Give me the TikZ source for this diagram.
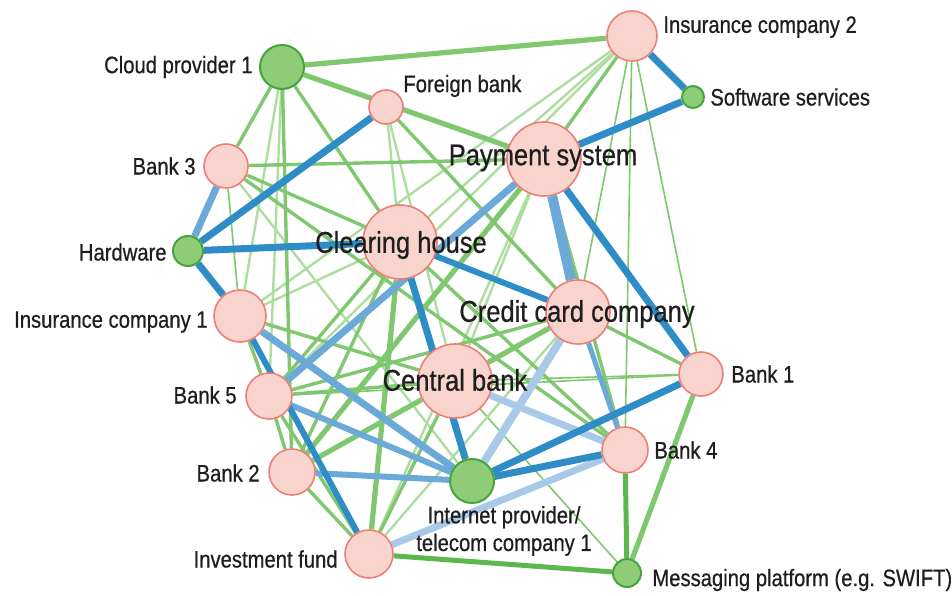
\documentclass[tikz,border=0pt]{standalone}
\usepackage{fontspec}
\setmainfont{Liberation Sans}[FakeStretch=0.85,FakeBold=0.6]
\definecolor{pinkfill}{HTML}{F9D4CD}
\definecolor{pinkline}{HTML}{EE7D78}
\definecolor{gfill}{HTML}{8ECC78}
\definecolor{gline}{HTML}{45A53C}
\definecolor{txt}{HTML}{1E1E1E}
\definecolor{dblue}{HTML}{2E8CC6}
\definecolor{mblue}{HTML}{6BA9D8}
\definecolor{lblue}{HTML}{A8CAE8}
\definecolor{egreen}{HTML}{7FC86F}
\definecolor{lgreen}{HTML}{AEDDA0}
\definecolor{dgreen}{HTML}{5AB84D}
\pgfdeclarelayer{bg}
\pgfsetlayers{bg,main}
\tikzset{
  pk/.style={circle, fill=pinkfill, draw=pinkline, line width=0.8pt, inner sep=0pt},
  gn/.style={circle, fill=gfill, draw=gline, line width=1pt, inner sep=0pt},
  lab/.style={font=\fontsize{11.9}{13.8}\selectfont, text=txt, inner sep=0pt},
  big/.style={font=\fontsize{15}{17}\selectfont, text=txt, inner sep=0pt},
  db/.style={draw=dblue, line width=#1}, db/.default=3.5pt,
  mb/.style={draw=mblue, line width=#1}, mb/.default=3.5pt,
  lb/.style={draw=lblue, line width=#1}, lb/.default=3.5pt,
  gk/.style={draw=egreen, line width=#1}, gk/.default=2.6pt,
  gm/.style={draw=egreen, line width=#1}, gm/.default=1.7pt,
  gt/.style={draw=egreen, line width=#1}, gt/.default=0.8pt,
  lg/.style={draw=lgreen, line width=#1}, lg/.default=1.2pt,
  dg/.style={draw=dgreen, line width=#1}, dg/.default=2.5pt,
}
\begin{document}
\begin{tikzpicture}[x=0.5pt,y=-0.5pt]
\useasboundingbox (0,0) rectangle (952,595);
% nodes
\node[gn, minimum size=22pt] (CP1) at (282,67) {};
\node[pk, minimum size=17pt] (FB)  at (386,107) {};
\node[pk, minimum size=22pt] (B3)  at (226,166) {};
\node[gn, minimum size=15pt] (HW)  at (188,251) {};
\node[pk, minimum size=37pt] (CH)  at (400,242) {};
\node[pk, minimum size=25pt] (IC2) at (632,36) {};
\node[gn, minimum size=11pt] (SS)  at (693,97) {};
\node[pk, minimum size=37pt] (PS)  at (544,159) {};
\node[pk, minimum size=32pt] (CCC) at (578,312) {};
\node[pk, minimum size=37pt] (CB)  at (455,381) {};
\node[pk, minimum size=26pt] (IC1) at (240,316) {};
\node[pk, minimum size=23pt] (B5)  at (269,396) {};
\node[pk, minimum size=23pt] (B2)  at (292,472) {};
\node[pk, minimum size=24pt] (IF)  at (369,554) {};
\node[gn, minimum size=22pt] (IP)  at (472,481) {};
\node[pk, minimum size=23pt] (B4)  at (625,450) {};
\node[pk, minimum size=22pt] (B1)  at (701,374) {};
\node[gn, minimum size=14pt] (MP)  at (627,573) {};
% edges
\begin{pgfonlayer}{bg}
% green, thin / light first
\draw[lg] (CP1) -- (IC1);
\draw[lg] (CP1) -- (B5);
\draw[lg] (FB) -- (CH);
\draw[lg] (FB) -- (CB);
\draw[lg] (IC2) -- (CH);
\draw[lg] (IC2) -- (IC1);
\draw[lg] (IC2) -- (B5);
\draw[gt] (IC2) -- (CCC);
\draw[gt] (IC2) -- (B4);
\draw[gt] (IC2) -- (B1);
\draw[lg] (PS) -- (IF);
\draw[lg] (PS) -- (CB);
\draw[lg] (CH) -- (IC1);
\draw[gt] (B3) -- (IC1);
\draw[lg] (B3) -- (IP);
\draw[gt] (CB) -- (MP);
\draw[gt] (B5) -- (B1);
\draw[gt] (CB) -- (B1);
\draw[lg] (IF) -- (CCC);
\draw[lg] (IF) -- (IC1);
% green medium
\draw[gm] (CP1) -- (B3);
\draw[gm] (CP1) -- (B2);
\draw[gm] (CP1) -- (CH);
\draw[gm] (FB) -- (CCC);
\draw[gm] (B3) -- (PS);
\draw[gm] (B3) -- (CH);
\draw[gm] (B3) -- (B4);
\draw[gm] (IC2) -- (PS);
\draw[gm] (PS) -- (B4);
\draw[gm] (CH) -- (B2);
\draw[gm] (CH) -- (B4);
\draw[gm] (CH) -- (B5);
\draw[gm] (CB) -- (B5);
\draw[gm] (CB) -- (IC1);
\draw[gm] (CB) -- (IF);
\draw[gm] (IF) -- (B5);
\draw[gm] (IF) -- (B2);
\draw[gm] (B1) -- (CCC);
\draw[gm] (IC1) -- (B5);
\draw[gm] (B5) -- (B2);
\draw[gm] (B5) -- (CCC);
% green thick
\draw[gk] (CP1) -- (IC2);
\draw[gk] (CP1) -- (PS);
\draw[gk] (PS) -- (B2);
\draw[gk] (CH) -- (IF);
\draw[gk] (CB) -- (CCC);
\draw[gk] (CB) -- (B2);
\draw[gk] (B1) -- (MP);
\draw[dg] (IF) -- (MP);
\draw[dg] (B4) -- (MP);
% blue
\draw[lb] (IF) -- (B4);
\draw[lb] (CB) -- (B4);
\draw[lb=4pt] (IP) -- (CCC);
\draw[mb=2.5pt] (CCC) -- (B4);
\draw[mb] (IP) -- (IC1);
\draw[mb=3pt] (IP) -- (B5);
\draw[mb=3pt] (IP) -- (B2);
\draw[mb] (PS) -- (B5);
\draw[mb] (B3) -- (HW);
\draw[mb=5pt] (PS) -- (CCC);
\draw[db=3pt] (CH) -- (CCC);
\draw[db] (CH) -- (IP);
\draw[db] (IC2) -- (SS);
\draw[db] (SS) -- (PS);
\draw[db] (FB) -- (HW);
\draw[db] (HW) -- (CH);
\draw[db] (HW) -- (IC1);
\draw[db=3pt] (IC1) -- (IF);
\draw[db] (PS) -- (B1);
\draw[db] (IP) -- (B1);
\draw[db] (IP) -- (B4);
\end{pgfonlayer}
% labels
\node[lab, anchor=east] (lCP1) at (253,67) {Cloud provider 1};
\node[lab, anchor=west] (lFB)  at (403,86) {Foreign bank};
\node[lab, anchor=east] (lB3)  at (196,166) {Bank 3};
\node[lab, anchor=east] (lHW)  at (167,252) {Hardware};
\node[big] (lCH)  at (401,245) {Clearing house};
\node[lab, anchor=west] (lIC2) at (663,27) {Insurance company 2};
\node[lab, anchor=west] (lSS)  at (710,97) {Software services};
\node[big] (lPS)  at (543,158) {Payment system};
\node[big] (lCCC) at (577,314) {Credit card company};
\node[big] (lCB)  at (455,380) {Central bank};
\node[lab, anchor=east] (lIC1) at (208,322) {Insurance company 1};
\node[lab, anchor=east] (lB5)  at (237,395) {Bank 5};
\node[lab, anchor=east] (lB2)  at (260,473) {Bank 2};
\node[lab, anchor=east] (lIF)  at (338,559) {Investment fund};
\node[lab, align=center] (lIP) at (504,531) {Internet provider/\\telecom company 1};
\node[lab, anchor=west] (lB1)  at (731,374) {Bank 1};
\node[lab, anchor=west] (lB4)  at (654,450) {Bank 4};
\node[lab, anchor=west] (lMP)  at (652,580) {Messaging platform (e.g. SWIFT)};
\end{tikzpicture}
\end{document}
